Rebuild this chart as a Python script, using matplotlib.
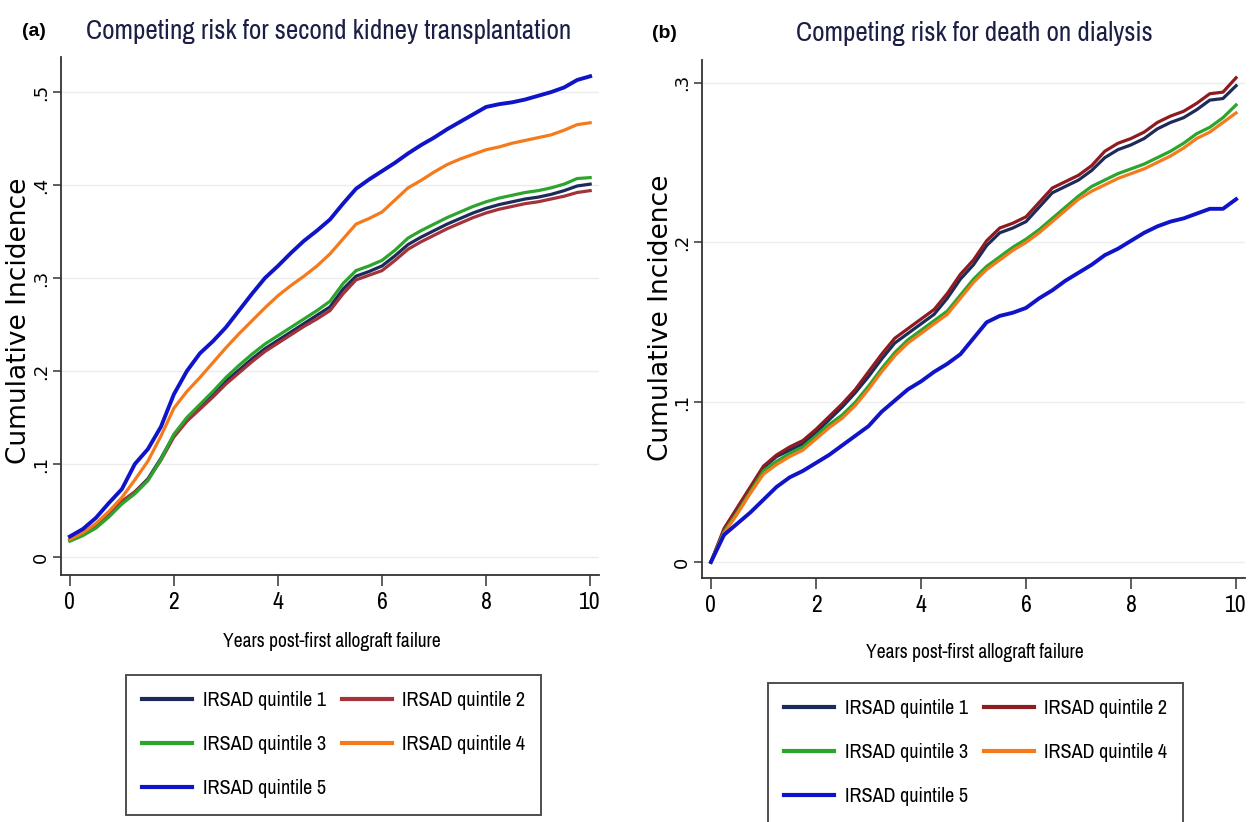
import matplotlib
matplotlib.use("Agg")
import matplotlib.pyplot as plt

# the source is a vertically stretched Stata export: horizontal text looks condensed,
# rotated text looks wide
narrow = ["Archivo Narrow", "Liberation Sans Narrow", "Liberation Sans"]
wide = "DejaVu Sans"

years = [0, 0.25, 0.5, 0.75, 1, 1.25, 1.5, 1.75, 2, 2.25, 2.5, 2.75, 3, 3.25, 3.5, 3.75,
         4, 4.25, 4.5, 4.75, 5, 5.25, 5.5, 5.75, 6, 6.25, 6.5, 6.75, 7, 7.25, 7.5, 7.75,
         8, 8.25, 8.5, 8.75, 9, 9.25, 9.5, 9.75, 10]

labels = ["IRSAD quintile 1", "IRSAD quintile 2", "IRSAD quintile 3",
          "IRSAD quintile 4", "IRSAD quintile 5"]

# (a) second kidney transplantation
tx_q1 = [0.018, 0.024, 0.033, 0.045, 0.059, 0.070, 0.084, 0.106, 0.131, 0.148, 0.161, 0.175,
         0.189, 0.201, 0.213, 0.224, 0.233, 0.242, 0.251, 0.260, 0.269, 0.288, 0.302, 0.307,
         0.313, 0.324, 0.336, 0.344, 0.351, 0.358, 0.364, 0.370, 0.375, 0.379, 0.382, 0.385,
         0.387, 0.390, 0.394, 0.399, 0.401]
tx_q2 = [0.018, 0.025, 0.034, 0.046, 0.060, 0.070, 0.083, 0.104, 0.129, 0.146, 0.159, 0.172,
         0.186, 0.198, 0.210, 0.221, 0.230, 0.239, 0.248, 0.256, 0.265, 0.283, 0.298, 0.303,
         0.308, 0.319, 0.331, 0.339, 0.346, 0.353, 0.359, 0.365, 0.370, 0.374, 0.377, 0.380,
         0.382, 0.385, 0.388, 0.392, 0.394]
tx_q3 = [0.017, 0.023, 0.031, 0.043, 0.057, 0.068, 0.082, 0.105, 0.132, 0.150, 0.164, 0.178,
         0.193, 0.206, 0.218, 0.229, 0.238, 0.247, 0.256, 0.265, 0.275, 0.294, 0.308, 0.313,
         0.319, 0.330, 0.343, 0.351, 0.358, 0.365, 0.371, 0.377, 0.382, 0.386, 0.389, 0.392,
         0.394, 0.397, 0.401, 0.407, 0.408]
tx_q4 = [0.019, 0.026, 0.036, 0.049, 0.064, 0.083, 0.103, 0.130, 0.160, 0.178, 0.193, 0.209,
         0.225, 0.240, 0.254, 0.268, 0.281, 0.292, 0.302, 0.313, 0.326, 0.342, 0.358, 0.364,
         0.371, 0.384, 0.397, 0.405, 0.414, 0.422, 0.428, 0.433, 0.438, 0.441, 0.445, 0.448,
         0.451, 0.454, 0.459, 0.465, 0.467]
tx_q5 = [0.022, 0.030, 0.042, 0.058, 0.073, 0.100, 0.116, 0.140, 0.175, 0.200, 0.219, 0.232,
         0.247, 0.265, 0.283, 0.300, 0.313, 0.327, 0.340, 0.351, 0.363, 0.380, 0.396, 0.406,
         0.415, 0.424, 0.434, 0.443, 0.451, 0.460, 0.468, 0.476, 0.484, 0.487, 0.489, 0.492,
         0.496, 0.500, 0.505, 0.513, 0.517]

# (b) death on dialysis
dd_q1 = [0.0, 0.020, 0.033, 0.046, 0.059, 0.066, 0.070, 0.074, 0.081, 0.089, 0.097, 0.106,
         0.116, 0.127, 0.137, 0.143, 0.149, 0.155, 0.165, 0.177, 0.186, 0.198, 0.206, 0.209,
         0.213, 0.222, 0.231, 0.235, 0.239, 0.245, 0.253, 0.258, 0.261, 0.265, 0.271, 0.275,
         0.278, 0.283, 0.289, 0.290, 0.298]
dd_q2 = [0.0, 0.021, 0.034, 0.047, 0.060, 0.067, 0.072, 0.076, 0.083, 0.091, 0.099, 0.108,
         0.119, 0.130, 0.140, 0.146, 0.152, 0.158, 0.168, 0.180, 0.189, 0.201, 0.209, 0.212,
         0.216, 0.225, 0.234, 0.238, 0.242, 0.248, 0.257, 0.262, 0.265, 0.269, 0.275, 0.279,
         0.282, 0.287, 0.293, 0.294, 0.303]
dd_q3 = [0.0, 0.019, 0.031, 0.044, 0.057, 0.063, 0.068, 0.072, 0.079, 0.086, 0.092, 0.100,
         0.110, 0.121, 0.131, 0.139, 0.145, 0.151, 0.157, 0.167, 0.177, 0.185, 0.191, 0.197,
         0.202, 0.208, 0.215, 0.222, 0.229, 0.235, 0.239, 0.243, 0.246, 0.249, 0.253, 0.257,
         0.262, 0.268, 0.272, 0.278, 0.286]
dd_q4 = [0.0, 0.018, 0.030, 0.043, 0.055, 0.061, 0.066, 0.070, 0.077, 0.084, 0.090, 0.098,
         0.108, 0.119, 0.129, 0.137, 0.143, 0.149, 0.155, 0.165, 0.175, 0.183, 0.189, 0.195,
         0.200, 0.206, 0.213, 0.220, 0.227, 0.232, 0.236, 0.240, 0.243, 0.246, 0.250, 0.254,
         0.259, 0.265, 0.269, 0.275, 0.281]
dd_q5 = [0.0, 0.017, 0.024, 0.031, 0.039, 0.047, 0.053, 0.057, 0.062, 0.067, 0.073, 0.079,
         0.085, 0.094, 0.101, 0.108, 0.113, 0.119, 0.124, 0.130, 0.140, 0.150, 0.154, 0.156,
         0.159, 0.165, 0.170, 0.176, 0.181, 0.186, 0.192, 0.196, 0.201, 0.206, 0.210, 0.213,
         0.215, 0.218, 0.221, 0.221, 0.227]

x_ticks = [0, 2, 4, 6, 8, 10]
a_yticks = [0, 0.1, 0.2, 0.3, 0.4, 0.5]
a_ylabels = ["0", ".1", ".2", ".3", ".4", ".5"]
b_yticks = [0, 0.1, 0.2, 0.3]
b_ylabels = ["0", ".1", ".2", ".3"]

colors_a = ["#1c2b5a", "#a3323a", "#2ba52b", "#f57a1c", "#1014c8"]
colors_b = ["#1c2b5a", "#8e1b1f", "#2ba52b", "#f57a1c", "#1014c8"]

fig = plt.figure(figsize=(12.5, 8.22), dpi=100)
ax_a = fig.add_axes([0.0488, 0.3005, 0.4304, 0.630])
ax_b = fig.add_axes([0.5616, 0.2968, 0.4344, 0.630])


def draw(ax, series, colors, yticks, ylabels, ylim, legend_xy):
    handles = []
    for i, s in enumerate(series):
        lw = 2.8 if i == 4 else 2.3
        h, = ax.plot(years, s, color=colors[i], lw=lw, label=labels[i])
        handles.append(h)
    ax.set_xlim(-0.17, 10.17)
    ax.set_ylim(*ylim)
    ax.set_xticks(x_ticks)
    ax.set_xticklabels([str(t) for t in x_ticks], family=narrow, fontsize=17)
    ax.set_yticks(yticks)
    ax.set_yticklabels(ylabels, family=wide, fontsize=13, rotation=90, va="center")
    ax.tick_params(axis="x", direction="out", length=8, width=1.1, color="#333333", pad=4)
    ax.tick_params(axis="y", direction="out", length=6, width=1.1, color="#333333", pad=2)
    for side in ["top", "right"]:
        ax.spines[side].set_visible(False)
    for side in ["left", "bottom"]:
        ax.spines[side].set_linewidth(1.3)
        ax.spines[side].set_color("#333333")
    ax.grid(axis="y", color="#ececec", lw=1)
    ax.set_axisbelow(True)
    # legend rows read q1 q2 / q3 q4 / q5
    order = [0, 2, 4, 1, 3]
    leg = ax.legend([handles[k] for k in order], [labels[k] for k in order], ncol=2,
                    loc="upper left", bbox_to_anchor=legend_xy, bbox_transform=fig.transFigure,
                    borderaxespad=0, prop={"family": narrow, "size": 14.5},
                    frameon=True, fancybox=False, edgecolor="#222222", handlelength=2.5,
                    handletextpad=0.5, columnspacing=0.8, labelspacing=1.25,
                    borderpad=0.8)
    leg.get_frame().set_linewidth(1.4)
    for ln in leg.get_lines():
        ln.set_linewidth(3)


draw(ax_a, [tx_q1, tx_q2, tx_q3, tx_q4, tx_q5], colors_a, a_yticks, a_ylabels,
     (-0.0194, 0.5376), (126 / 1250, 1 - 675 / 822))
draw(ax_b, [dd_q1, dd_q2, dd_q3, dd_q4, dd_q5], colors_b, b_yticks, b_ylabels,
     (-0.01, 0.314), (768 / 1250, 1 - 683 / 822))

title_col = "#1b1f45"
fig.text(329 / 1250, 1 - 31 / 822, "Competing risk for second kidney transplantation",
         ha="center", va="center", family=narrow, fontsize=19.5, color=title_col)
fig.text(974 / 1250, 1 - 34 / 822, "Competing risk for death on dialysis",
         ha="center", va="center", family=narrow, fontsize=19.5, color=title_col)
fig.text(22 / 1250, 1 - 31 / 822, "(a)", ha="left", va="center", fontweight="bold",
         family="Liberation Sans", fontsize=14)
fig.text(652 / 1250, 1 - 33 / 822, "(b)", ha="left", va="center", fontweight="bold",
         family="Liberation Sans", fontsize=14)

fig.text(19 / 1250, 1 - 321 / 822, "Cumulative Incidence", rotation=90, ha="center",
         va="center", family=wide, fontsize=19)
fig.text(661 / 1250, 1 - 318 / 822, "Cumulative Incidence", rotation=90, ha="center",
         va="center", family=wide, fontsize=19)
fig.text(332 / 1250, 1 - 641 / 822, "Years post-first allograft failure", ha="center",
         va="center", family=narrow, fontsize=14)
fig.text(975 / 1250, 1 - 652 / 822, "Years post-first allograft failure", ha="center",
         va="center", family=narrow, fontsize=14)

fig.savefig("out.png", dpi=100, facecolor="white")
